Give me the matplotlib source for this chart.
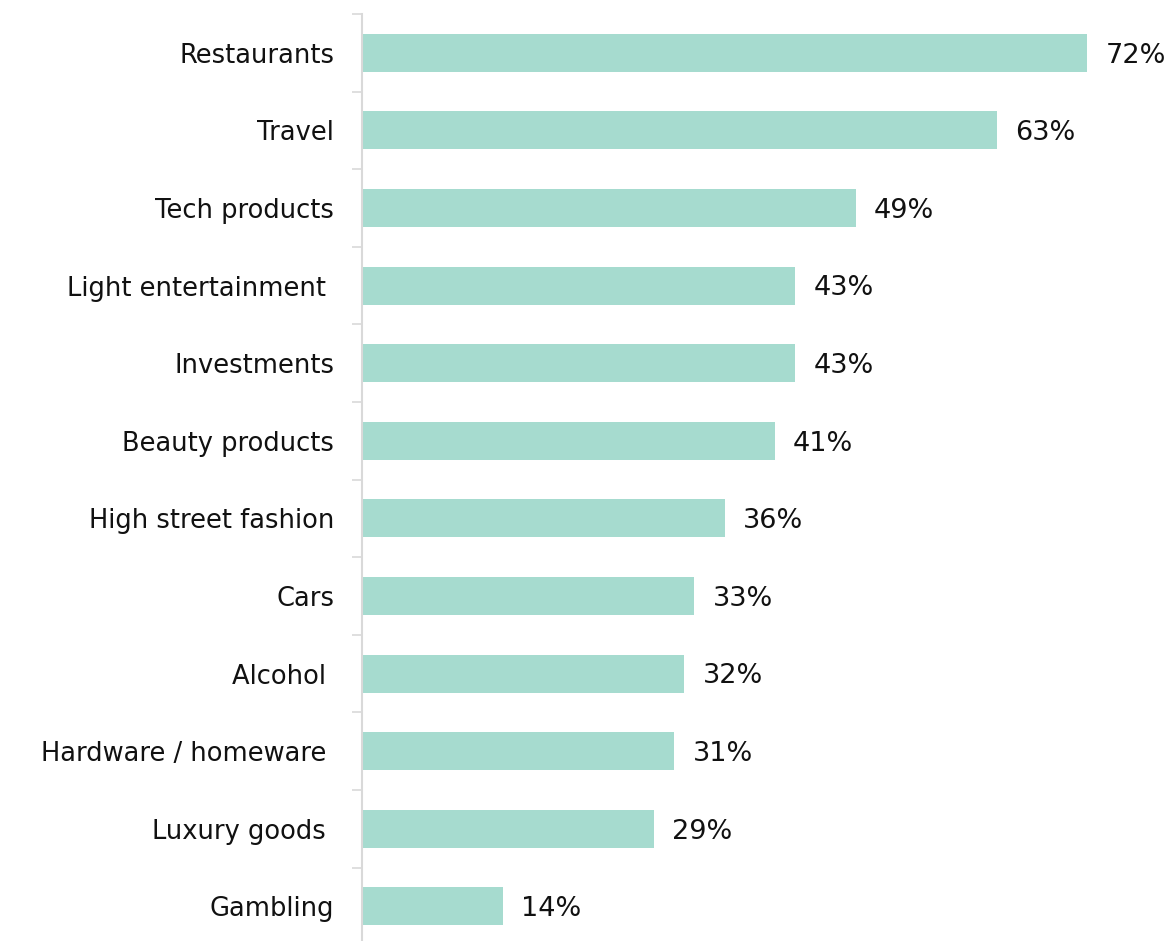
import matplotlib.pyplot as plt

categories = ['Restaurants', 'Travel', 'Tech products', 'Light entertainment ',
              'Investments', 'Beauty products', 'High street fashion', 'Cars',
              'Alcohol ', 'Hardware / homeware ', 'Luxury goods ', 'Gambling']
values = [72, 63, 49, 43, 43, 41, 36, 33, 32, 31, 29, 14]

BAR_COLOR = '#a6dbcf'
AXIS_COLOR = '#d9d9d9'

fig = plt.figure(figsize=(11.76, 9.41), dpi=100)
ax = fig.add_axes([362 / 1176, 0, 806 / 1176, 1 - 14 / 941])

ypos = list(range(len(categories)))
ax.barh(ypos, values, height=0.49, color=BAR_COLOR)

for y, v in zip(ypos, values):
    ax.annotate(f'{v}%', (v, y), xytext=(13, -2), textcoords='offset points',
                va='center', ha='left', fontsize=19.5, color='#111111')

ax.set_xlim(0, 80)
ax.set_ylim(-0.5 + 927 / 77.6, -0.5)

# category labels, with the gray separator ticks sitting between them
ax.set_yticks(ypos)
ax.set_yticklabels(categories, fontsize=18.5, color='#111111')
ax.tick_params(axis='y', which='major', length=0, pad=20)
ax.set_yticks([y - 0.5 for y in ypos], minor=True)
ax.tick_params(axis='y', which='minor', length=7, width=1.2, color=AXIS_COLOR)

ax.set_xticks([])
for side in ['top', 'right', 'bottom']:
    ax.spines[side].set_visible(False)
ax.spines['left'].set_color(AXIS_COLOR)
ax.spines['left'].set_linewidth(1.5)

fig.savefig('out.png', dpi=100)
